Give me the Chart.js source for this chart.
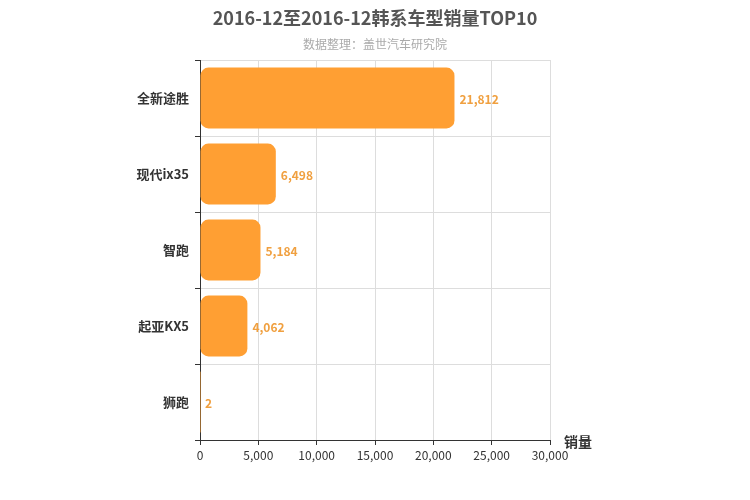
<!DOCTYPE html>
<html lang="en">
<head>
  <meta charset="UTF-8">
  <title>韩系车型销量TOP10</title>
  <style>
    * { margin: 0; padding: 0; }
    body { background: #fff; width: 750px; height: 500px; overflow: hidden; }
  </style>
</head>
<body>
  <canvas id="chart" width="750" height="500"></canvas>

  <script src="https://cdn.jsdelivr.net/npm/chart.js"></script>
  <script>
    const models = ['全新途胜', '现代ix35', '智跑', '起亚KX5', '狮跑'];
    const sales = [21812, 6498, 5184, 4062, 2];

    const FONT = '"Noto Sans CJK SC", "Noto Sans", sans-serif';

    // titles, value labels, axis name
    const decor = {
      id: 'decor',
      afterDraw(chart) {
        const ctx = chart.ctx, a = chart.chartArea;
        ctx.save();
        ctx.textAlign = 'center';
        ctx.textBaseline = 'middle';
        ctx.fillStyle = '#555';
        ctx.font = 'bold 18px ' + FONT;
        ctx.fillText('2016-12至2016-12韩系车型销量TOP10', 375, 18);
        ctx.fillStyle = '#aaa';
        ctx.font = '12px ' + FONT;
        ctx.fillText('数据整理：盖世汽车研究院', 375, 44);

        ctx.fillStyle = '#333';
        ctx.font = 'bold 14px ' + FONT;
        ctx.textAlign = 'left';
        ctx.fillText('销量', a.right + 14, a.bottom + 2);

        ctx.fillStyle = '#f0a040';
        ctx.font = 'bold 12px ' + FONT;
        chart.getDatasetMeta(0).data.forEach((bar, i) => {
          ctx.fillText(sales[i].toLocaleString('en-US'), bar.x + 5, bar.y + 1);
        });
        ctx.restore();
      }
    };

    new Chart(document.getElementById('chart'), {
      type: 'bar',
      data: {
        labels: models,
        datasets: [{
          data: sales,
          backgroundColor: '#ff9f33',
          borderRadius: 8,
          borderSkipped: false,
          barPercentage: 0.8,
          categoryPercentage: 1
        }]
      },
      options: {
        indexAxis: 'y',
        responsive: false,
        animation: false,
        devicePixelRatio: 1,
        layout: { padding: { top: 60, right: 200, left: 0, bottom: 0 } },
        plugins: { legend: { display: false }, tooltip: { enabled: false } },
        scales: {
          x: {
            min: 0, max: 30000,
            ticks: { stepSize: 5000, color: '#333', font: { size: 12, family: FONT },
                     callback: v => v.toLocaleString('en-US') },
            grid: { color: '#ddd', tickColor: '#333', tickLength: 5 },
            border: { color: '#333' },
            afterFit: s => { s.height = 60; }
          },
          y: {
            ticks: { color: '#333', font: { size: 13, weight: 'bold', family: FONT }, padding: 6 },
            grid: { color: '#ddd', offset: true, tickColor: '#333', tickLength: 5 },
            border: { color: '#333' },
            afterFit: s => { s.width = 200; }
          }
        }
      },
      plugins: [decor]
    });
  </script>
</body>
</html>
